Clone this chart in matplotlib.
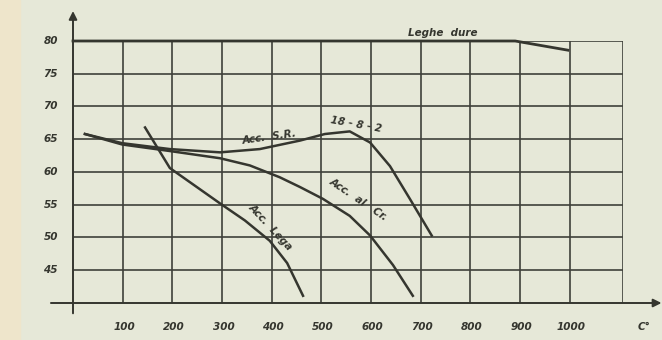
import numpy as np
import matplotlib.pyplot as plt

# values (temperature in C, hardness HB)
sr_temp = [24, 99, 195, 296, 376, 457, 507, 557, 598, 638, 678, 722]
sr_hb = [65.8, 64.4, 63.5, 63.0, 63.5, 64.8, 65.8, 66.2, 64.5, 60.9, 55.9, 50.3]

cr_temp = [24, 99, 195, 296, 356, 416, 457, 503, 557, 598, 644, 684]
cr_hb = [65.8, 64.2, 63.2, 62.1, 61.0, 59.2, 57.7, 55.9, 53.3, 50.3, 45.8, 41.1]

lega_temp = [145, 195, 296, 346, 396, 431, 463]
lega_hb = [66.8, 60.6, 55.2, 52.6, 49.5, 46.1, 41.1]

dure_temp = [0, 890, 996]
dure_hb = [80, 80, 78.6]

xticks = [100, 200, 300, 400, 500, 600, 700, 800, 900, 1000]
yticks = [45, 50, 55, 60, 65, 70, 75, 80]

paper = '#e6e8d8'
ink = '#35362f'

fig = plt.figure(figsize=(6.62, 3.40), dpi=100, facecolor=paper)
# beige strip on the left edge of the scan
fig.patches.append(plt.Rectangle((0, 0), 0.03, 1, transform=fig.transFigure,
                                 color='#eee5cb', zorder=0))
ax = fig.add_axes([73/662, 37/340, 550/662, 262/340])
ax.set_facecolor(paper)
ax.set_xlim(0, 1107)
ax.set_ylim(40, 80)

# grid
for t in xticks + [1107]:
    ax.axvline(t, color='#3f403a', lw=1.2, zorder=1)
for t in yticks:
    ax.axhline(t, color='#3f403a', lw=1.2, zorder=1)
for s in ax.spines.values():
    s.set_visible(False)
ax.set_xticks([])
ax.set_yticks([])

# axes with arrows
ax.annotate('', xy=(1190, 40), xytext=(-50, 40), xycoords='data',
            arrowprops=dict(arrowstyle='-|>', color=ink, lw=1.4,
                            mutation_scale=12), annotation_clip=False)
ax.annotate('', xy=(0, 85), xytext=(0, 38), xycoords='data',
            arrowprops=dict(arrowstyle='-|>', color=ink, lw=1.4,
                            mutation_scale=12), annotation_clip=False)

# curves
ax.plot(sr_temp, sr_hb, color=ink, lw=1.8, zorder=3, clip_on=False)
ax.plot(cr_temp, cr_hb, color=ink, lw=1.8, zorder=3, clip_on=False)
ax.plot(lega_temp, lega_hb, color=ink, lw=1.8, zorder=3, clip_on=False)
ax.plot(dure_temp, dure_hb, color=ink, lw=2.0, zorder=3, clip_on=False)

lab = dict(color=ink, fontsize=7.5, fontstyle='italic', fontweight='bold',
           ha='center', va='center')
ax.text(745, 81.2, 'Leghe  dure', **lab)
ax.text(395, 65.3, 'Acc.  S.R.', rotation=8, **lab)
ax.text(570, 67.3, '18 - 8 - 2', rotation=-10, **lab)
ax.text(575, 55.8, 'Acc.  al   Cr.', rotation=-34, **lab)
ax.text(398, 51.6, 'Acc.  Lega', rotation=-47, **lab)

# tick labels
for t in xticks:
    ax.text(t + 3, 36.3, str(t), **lab)
ax.text(1150, 36.3, 'C°', **lab)
for t in yticks:
    ax.text(-45, t, str(t), **lab)
ax.text(-118, 60, 'HBo', rotation=90, **lab)

fig.savefig('out.png', dpi=100, facecolor=paper)
